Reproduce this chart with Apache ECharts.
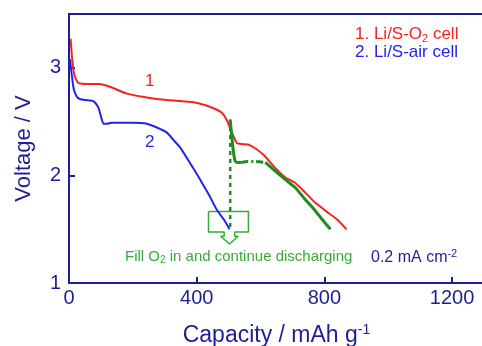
<!DOCTYPE html>
<html>
<head>
<meta charset="utf-8">
<script src="https://cdn.jsdelivr.net/npm/echarts@6/dist/echarts.min.js"></script>
<style>
  html, body { margin: 0; padding: 0; background: #fff; }
  #chart { width: 482px; height: 346px; }
</style>
</head>
<body>
<div id="chart"></div>
<script>
// 数据（容量 mAh/g，电压 V）
const redCap = [5, 10, 17, 29, 60, 97, 140, 181, 230, 275, 330, 390, 430, 463, 480, 495, 510, 526, 545, 563, 584, 610, 646, 678, 709, 740, 772, 813, 840, 869];
const redV = [3.27, 3.08, 2.93, 2.86, 2.85, 2.85, 2.81, 2.76, 2.73, 2.71, 2.695, 2.68, 2.65, 2.61, 2.58, 2.51, 2.40, 2.30, 2.29, 2.285, 2.25, 2.19, 2.07, 1.98, 1.93, 1.84, 1.745, 1.65, 1.59, 1.50];

const blueCap = [3, 8, 15, 25, 34, 50, 76, 92, 100, 108, 118, 134, 200, 244, 275, 306, 327, 348, 380, 411, 440, 463, 485, 503];
const blueV = [3.08, 2.95, 2.80, 2.73, 2.71, 2.70, 2.69, 2.63, 2.55, 2.48, 2.48, 2.49, 2.49, 2.48, 2.445, 2.40, 2.33, 2.26, 2.11, 1.96, 1.81, 1.68, 1.59, 1.50];

const greenCapA = [505, 508, 512, 516, 521, 530, 540];
const greenVA = [2.52, 2.42, 2.30, 2.20, 2.13, 2.12, 2.12];
const greenCapB = [540, 560, 584, 600, 615];
const greenVB = [2.12, 2.13, 2.13, 2.125, 2.12];
const greenCapC = [615, 646, 678, 709, 740, 772, 793, 819];
const greenVC = [2.12, 2.04, 1.96, 1.885, 1.776, 1.67, 1.59, 1.50];

const dropCap = [505, 505];
const dropV = [2.45, 1.50];

// 箭头轮廓
const arrowCap = [437, 562, 562, 519, 519, 530, 503, 475, 486, 486, 437, 437];
const arrowV = [1.664, 1.664, 1.474, 1.474, 1.435, 1.435, 1.362, 1.435, 1.435, 1.474, 1.474, 1.664];

const xTicks = [0, 400, 800, 1200];
const yTicks = [1, 2, 3];

const navy = "#1e1e96";
const font = "Liberation Sans, Arial, sans-serif";

function pairs(xs, ys) {
  return xs.map((x, i) => [x, ys[i]]);
}

function lineSeries(xs, ys, color, width, type, z, smooth) {
  return {
    type: "line",
    data: pairs(xs, ys),
    showSymbol: false,
    silent: true,
    smooth: smooth === undefined ? 0.2 : smooth,
    z: z || 2,
    lineStyle: { color: color, width: width, type: type || "solid" },
  };
}

const chart = echarts.init(document.getElementById("chart"));

const option = {
  animation: false,
  textStyle: { fontFamily: font },
  grid: {
    left: 69, top: 14, right: -2, bottom: 63,
    outerBoundsMode: "none",
    show: true, borderColor: navy, borderWidth: 2,
  },
  xAxis: {
    type: "value",
    min: 0, max: 1300, interval: 400,
    name: "Capacity / mAh g{sup|-1}",
    nameLocation: "middle",
    nameGap: 40,
    nameTextStyle: {
      color: navy, fontSize: 23, fontFamily: font,
      rich: { sup: { fontSize: 14, color: navy, verticalAlign: "top", padding: [0, 0, 12, 0] } },
    },
    axisLine: { lineStyle: { color: navy, width: 2 } },
    axisTick: { inside: true, length: 6, lineStyle: { color: navy, width: 2 } },
    axisLabel: {
      color: navy, fontSize: 20, margin: 5, showMaxLabel: false,
      formatter: (v) => (xTicks.includes(v) ? String(v) : ""),
    },
    splitLine: { show: false },
  },
  yAxis: {
    type: "value",
    min: 1, max: 3.5, interval: 1,
    name: "Voltage / V",
    nameLocation: "middle",
    nameGap: 34,
    nameTextStyle: { color: navy, fontSize: 22, fontFamily: font },
    axisLine: { lineStyle: { color: navy, width: 2 } },
    axisTick: { inside: true, length: 6, lineStyle: { color: navy, width: 2 } },
    axisLabel: {
      color: navy, fontSize: 20, margin: 8, showMaxLabel: false,
      formatter: (v) => (yTicks.includes(v) ? String(v) : ""),
    },
    splitLine: { show: false },
  },
  series: [
    lineSeries(arrowCap, arrowV, "#35ad35", 1.5, "solid", 1, false),
    lineSeries(redCap, redV, "#f52222", 2),
    lineSeries(blueCap, blueV, "#2222f0", 2),
    lineSeries(dropCap, dropV, "#1e8c1e", 2.5, [4, 4], 3, false),
    lineSeries(greenCapA, greenVA, "#1e8c1e", 3, "solid", 3),
    lineSeries(greenCapB, greenVB, "#1e8c1e", 3, [7, 3, 2, 3], 3),
    lineSeries(greenCapC, greenVC, "#1e8c1e", 3, "solid", 3),
  ],
  graphic: [
    {
      type: "text", left: 355, top: 26,
      style: {
        text: "1. Li/S-O{sub|2} cell",
        fill: "#f52222", font: "17px " + font,
        rich: { sub: { fontSize: 11, fill: "#f52222", verticalAlign: "bottom", padding: [9, 0, 0, 0] } },
      },
    },
    {
      type: "text", left: 355, top: 44,
      style: { text: "2. Li/S-air cell", fill: "#2222f0", font: "17px " + font },
    },
    {
      type: "text", left: 145, top: 73,
      style: { text: "1", fill: "#f52222", font: "17px " + font },
    },
    {
      type: "text", left: 145, top: 134,
      style: { text: "2", fill: "#2222f0", font: "17px " + font },
    },
    {
      type: "text", left: 125, top: 249,
      style: {
        text: "Fill O{sub|2} in and continue discharging",
        fill: "#35ad35", font: "15px " + font,
        rich: { sub: { fontSize: 10, fill: "#35ad35", verticalAlign: "bottom", padding: [8, 0, 0, 0] } },
      },
    },
    {
      type: "text", left: 371, top: 248,
      style: {
        text: "0.2 mA cm{sup|-2}",
        fill: navy, font: "16px " + font,
        rich: { sup: { fontSize: 11, fill: navy, verticalAlign: "top", padding: [0, 0, 8, 0] } },
      },
    },
  ],
};

chart.setOption(option);
</script>
</body>
</html>
